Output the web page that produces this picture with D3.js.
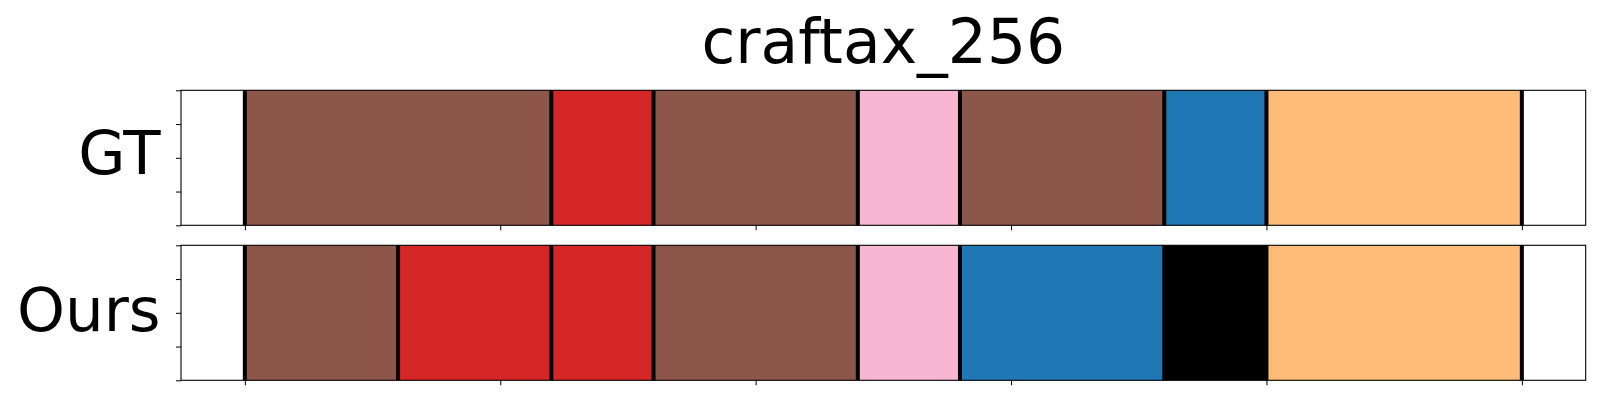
<!DOCTYPE html>
<html>
<head>
<meta charset="utf-8">
<script src="https://cdn.jsdelivr.net/npm/d3@7"></script>
<style>
  html, body { margin: 0; padding: 0; background: #fff; }
  svg { display: block; font-family: "DejaVu Sans", sans-serif; }
</style>
</head>
<body>
<svg id="chart" width="1600" height="400"></svg>
<script>
// ---- data ----
const title = "craftax_256";
const rowLabels = ["GT", "Ours"];
const xTicks = [0, 50, 100, 150, 200, 250];
const yTicks = [0, 0.25, 0.5, 0.75, 1];
const gtBounds = [0, 60, 80, 120, 140, 180, 200, 250];
const gtColors = ["#8c564b", "#d62728", "#8c564b", "#f7b6d2", "#8c564b", "#1f77b4", "#ffbb78"];
const oursBounds = [0, 30, 60, 80, 120, 140, 180, 200, 250];
const oursColors = ["#8c564b", "#d62728", "#d62728", "#8c564b", "#f7b6d2", "#1f77b4", "#000000", "#ffbb78"];

// ---- layout ----
const svg = d3.select("#chart");
const left = 181, right = 1585.7;
const panels = [
  { label: rowLabels[0], bounds: gtBounds, colors: gtColors, top: 90.3, bottom: 225.3, baseline: 174 },
  { label: rowLabels[1], bounds: oursBounds, colors: oursColors, top: 245.3, bottom: 380.3, baseline: 330.7 }
];

const x = d3.scaleLinear().domain([-12.5, 262.5]).range([left, right]);

svg.append("text")
  .attr("x", (left + right) / 2)
  .attr("y", 62.7)
  .attr("text-anchor", "middle")
  .attr("font-size", 61.5)
  .attr("fill", "#000")
  .text(title);

panels.forEach(p => {
  const y = d3.scaleLinear().domain([0, 1]).range([p.bottom, p.top]);
  const g = svg.append("g");

  const segs = p.colors.map((c, i) => ({ x0: p.bounds[i], x1: p.bounds[i + 1], c }));
  g.selectAll("rect.seg").data(segs).enter().append("rect")
    .attr("class", "seg")
    .attr("x", d => x(d.x0))
    .attr("width", d => x(d.x1) - x(d.x0))
    .attr("y", y(1))
    .attr("height", y(0) - y(1))
    .attr("fill", d => d.c);

  g.selectAll("line.bound").data(p.bounds).enter().append("line")
    .attr("class", "bound")
    .attr("x1", d => x(d)).attr("x2", d => x(d))
    .attr("y1", y(1)).attr("y2", y(0))
    .attr("stroke", "#000")
    .attr("stroke-width", 4);

  // frame
  g.append("rect")
    .attr("x", left).attr("y", p.top)
    .attr("width", right - left).attr("height", p.bottom - p.top)
    .attr("fill", "none").attr("stroke", "#000").attr("stroke-width", 1.1);

  // axes (ticks only, no labels)
  const xAxis = d3.axisBottom(x).tickValues(xTicks).tickSize(5).tickFormat("");
  const ax = g.append("g").attr("transform", `translate(0,${p.bottom})`).call(xAxis);
  ax.select(".domain").remove();
  ax.selectAll(".tick line").attr("stroke", "#000").attr("stroke-width", 1);

  const yAxis = d3.axisLeft(y).tickValues(yTicks).tickSize(5).tickFormat("");
  const ay = g.append("g").attr("transform", `translate(${left},0)`).call(yAxis);
  ay.select(".domain").remove();
  ay.selectAll(".tick line").attr("stroke", "#000").attr("stroke-width", 1);

  svg.append("text")
    .attr("x", 160.5)
    .attr("y", p.baseline)
    .attr("text-anchor", "end")
    .attr("font-size", 61)
    .attr("fill", "#000")
    .text(p.label);
});
</script>
</body>
</html>
